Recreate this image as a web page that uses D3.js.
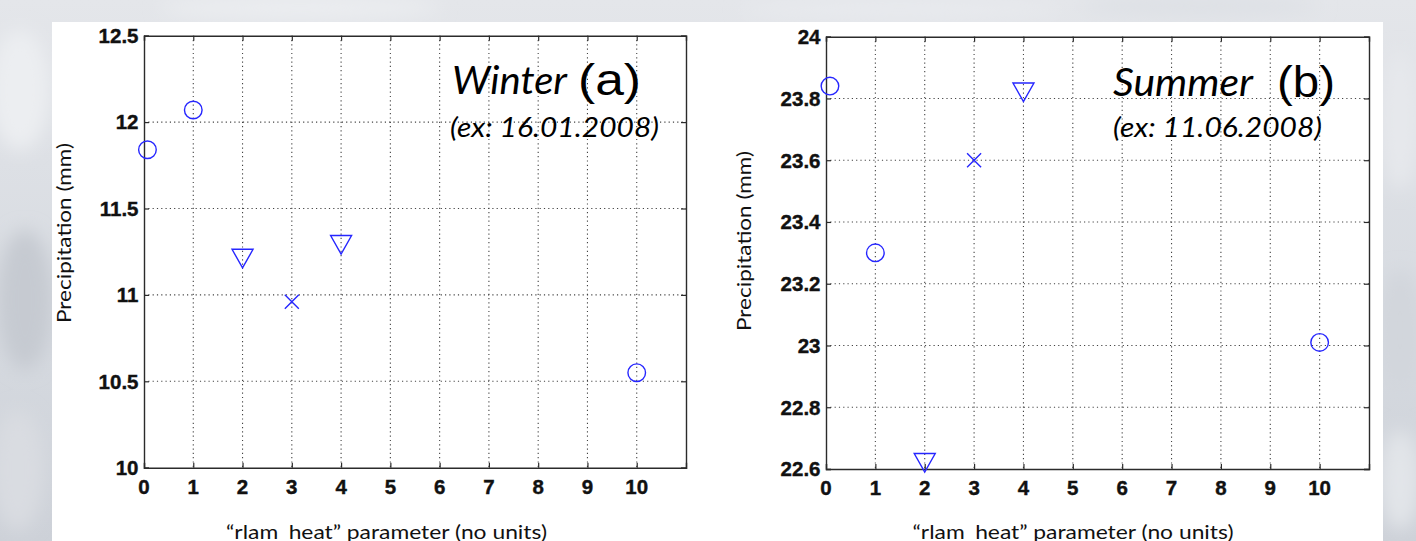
<!DOCTYPE html>
<html>
<head>
<meta charset="utf-8">
<script src="https://cdn.jsdelivr.net/npm/d3@7"></script>
<style>
  html, body { margin: 0; padding: 0; background: #dcdfe4; }
  svg { display: block; }
</style>
</head>
<body>
<svg id="chart" width="1416" height="541"></svg>
<script>
// rlam_heat parameter values shown on the x axis
const xTickValues = [0, 1, 2, 3, 4, 5, 6, 7, 8, 9, 10];
const xDomain = [0, 11];

// Winter case (16.01.2008)
const winterX = [0.07, 1, 2, 3, 4, 10];
const winterPrecip = [11.84, 12.07, 11.21, 10.96, 11.29, 10.55];
const winterMarkers = ["circle", "circle", "triangle", "cross", "triangle", "circle"];
const winterYTicks = [10, 10.5, 11, 11.5, 12, 12.5];

// Summer case (11.06.2008)
const summerX = [0.08, 1, 2, 3, 4, 10];
const summerPrecip = [23.84, 23.30, 22.62, 23.60, 23.82, 23.01];
const summerMarkers = ["circle", "circle", "triangle", "cross", "triangle", "circle"];
const summerYTicks = [22.6, 22.8, 23, 23.2, 23.4, 23.6, 23.8, 24];

const yLabel = "Precipitation (mm)";
const xLabel = "\u201Crlam_heat\u201D parameter (no units)";

const svg = d3.select("#chart");
const W = 1416, H = 541;

// ---- soft grey backdrop around the white sheet ----
const defs = svg.append("defs");
const bg = defs.append("linearGradient").attr("id", "bgGrad")
  .attr("x1", 0).attr("y1", 0).attr("x2", 0).attr("y2", 1);
bg.append("stop").attr("offset", "0%").attr("stop-color", "#e4e6ea");
bg.append("stop").attr("offset", "60%").attr("stop-color", "#d6dae0");
bg.append("stop").attr("offset", "100%").attr("stop-color", "#cdd1d8");
defs.append("filter").attr("id", "soft")
  .attr("x", "-50%").attr("y", "-50%").attr("width", "200%").attr("height", "200%")
  .append("feGaussianBlur").attr("stdDeviation", 9);

svg.append("rect").attr("width", W).attr("height", H).attr("fill", "url(#bgGrad)");
const blobs = [
  [20, 90, 30, 60, "#eceef1"], [25, 300, 28, 70, "#c6cad1"], [18, 470, 26, 60, "#d9dce1"],
  [300, 8, 140, 12, "#ebedf0"], [900, 10, 160, 10, "#e8eaee"], [1200, 6, 120, 10, "#dde0e5"],
  [1400, 120, 20, 70, "#e6e8ec"], [1400, 330, 22, 60, "#d2d6dc"], [1400, 480, 20, 50, "#e2e5e9"]
];
svg.append("g").attr("filter", "url(#soft)")
  .selectAll("ellipse").data(blobs).join("ellipse")
  .attr("cx", d => d[0]).attr("cy", d => d[1])
  .attr("rx", d => d[2]).attr("ry", d => d[3]).attr("fill", d => d[4]);

// white sheet holding both panels
svg.append("rect").attr("x", 52).attr("y", 22).attr("width", 1331).attr("height", H - 22)
  .attr("fill", "#ffffff");

const markerColor = "#2626ff";
const axisColor = "#2b2b2b";
const tickFont = "'Liberation Sans', Arial, sans-serif";
const textFont = "Lato, 'Open Sans', sans-serif";

function drawPanel(cfg) {
  const x = d3.scaleLinear().domain(xDomain).range([cfg.left, cfg.right]);
  const y = d3.scaleLinear().domain([cfg.yTicks[0], cfg.yTicks[cfg.yTicks.length - 1]])
    .range([cfg.bottom, cfg.top]);
  const g = svg.append("g");

  // dotted grid
  g.append("g").selectAll("line").data(xTickValues.filter(v => v > 0)).join("line")
    .attr("x1", d => x(d)).attr("x2", d => x(d))
    .attr("y1", cfg.top).attr("y2", cfg.bottom)
    .attr("stroke", "#444").attr("stroke-width", 1.1).attr("stroke-dasharray", "1.2,3.1");
  g.append("g").selectAll("line").data(cfg.yTicks.slice(1, -1)).join("line")
    .attr("x1", cfg.left).attr("x2", cfg.right)
    .attr("y1", d => y(d)).attr("y2", d => y(d))
    .attr("stroke", "#444").attr("stroke-width", 1.1).attr("stroke-dasharray", "1.2,3.1");

  // frame with inward ticks via d3 axes
  const tl = 5;
  const axB = d3.axisBottom(x).tickValues(xTickValues).tickSize(-tl).tickFormat("");
  const axT = d3.axisTop(x).tickValues(xTickValues).tickSize(-tl).tickFormat("");
  const axL = d3.axisLeft(y).tickValues(cfg.yTicks).tickSize(-tl).tickFormat("");
  const axR = d3.axisRight(y).tickValues(cfg.yTicks).tickSize(-tl).tickFormat("");
  const frame = [
    [axB, `translate(0,${cfg.bottom})`], [axT, `translate(0,${cfg.top})`],
    [axL, `translate(${cfg.left},0)`], [axR, `translate(${cfg.right},0)`]
  ];
  frame.forEach(([ax, tr]) => {
    const a = g.append("g").attr("transform", tr).call(ax);
    a.select(".domain").attr("stroke", axisColor).attr("stroke-width", 1.4);
    a.selectAll(".tick line").attr("stroke", axisColor).attr("stroke-width", 1.2);
  });

  // tick labels (slightly heavy, as in the printed figure)
  g.append("g").selectAll("text").data(xTickValues).join("text")
    .attr("x", d => x(d)).attr("y", cfg.bottom + 26)
    .attr("text-anchor", "middle")
    .attr("font-family", tickFont).attr("font-weight", "bold").attr("font-size", 20.5)
    .attr("fill", "#111").attr("stroke", "#111").attr("stroke-width", 0.4)
    .text(d => d);
  g.append("g").selectAll("text").data(cfg.yTicks).join("text")
    .attr("x", cfg.left - 5.5).attr("y", d => y(d) + 7.3)
    .attr("text-anchor", "end")
    .attr("font-family", tickFont).attr("font-weight", "bold").attr("font-size", 20.5)
    .attr("fill", "#111").attr("stroke", "#111").attr("stroke-width", 0.4)
    .text(d => String(d));

  // data markers
  const pts = cfg.xs.map((xv, i) => ({ x: xv, v: cfg.values[i], m: cfg.markers[i] }));
  const mg = g.append("g").attr("fill", "none").attr("stroke", markerColor).attr("stroke-width", 1.4);
  pts.forEach(p => {
    const cx = x(p.x), cy = y(p.v);
    if (p.m === "circle") {
      mg.append("circle").attr("cx", cx).attr("cy", cy).attr("r", 8.8);
    } else if (p.m === "triangle") {
      mg.append("path").attr("d",
        `M${cx - 10.5},${cy - 9.3}L${cx + 10.5},${cy - 9.3}L${cx},${cy + 9.3}Z`);
    } else {
      const s = 7;
      mg.append("path").attr("d",
        `M${cx - s},${cy - s}L${cx + s},${cy + s}M${cx - s},${cy + s}L${cx + s},${cy - s}`);
    }
  });

  // axis titles
  g.append("text")
    .attr("transform", `translate(${cfg.yLabelX},${cfg.yLabelY}) rotate(-90)`)
    .attr("text-anchor", "middle").attr("font-family", textFont).attr("font-size", 19)
    .attr("textLength", 180).attr("lengthAdjust", "spacingAndGlyphs")
    .attr("fill", "#111").text(yLabel);
  g.append("text")
    .attr("x", cfg.xLabelX).attr("y", 539)
    .attr("text-anchor", "middle").attr("font-family", textFont).attr("font-size", 20)
    .attr("textLength", 321).attr("lengthAdjust", "spacingAndGlyphs")
    .attr("fill", "#111").text(xLabel);

  // season annotation
  g.append("text").attr("x", cfg.seasonX).attr("y", cfg.seasonY)
    .attr("font-family", textFont).attr("font-style", "italic").attr("font-size", 38)
    .attr("textLength", cfg.seasonW).attr("lengthAdjust", "spacingAndGlyphs")
    .attr("fill", "#000").text(cfg.season);
  g.append("text").attr("x", cfg.tagX).attr("y", cfg.seasonY + 1)
    .attr("font-family", tickFont).attr("font-size", 44)
    .attr("textLength", cfg.tagW).attr("lengthAdjust", "spacingAndGlyphs")
    .attr("fill", "#000").text(cfg.tag);
  g.append("text").attr("x", cfg.dateX).attr("y", 137)
    .attr("font-family", textFont).attr("font-style", "italic").attr("font-size", 27)
    .attr("textLength", cfg.dateW).attr("lengthAdjust", "spacingAndGlyphs")
    .attr("fill", "#000").text(cfg.date);
}

drawPanel({
  left: 144, right: 686, top: 35.7, bottom: 467.7,
  xs: winterX, values: winterPrecip, markers: winterMarkers, yTicks: winterYTicks,
  yLabelX: 71, yLabelY: 233, xLabelX: 386.5,
  season: "Winter", seasonX: 452, seasonY: 94, seasonW: 115,
  tag: "(a)", tagX: 578, tagW: 63,
  date: "(ex: 16.01.2008)", dateX: 450, dateW: 209
});

drawPanel({
  left: 826, right: 1369, top: 36.7, bottom: 469,
  xs: summerX, values: summerPrecip, markers: summerMarkers, yTicks: summerYTicks,
  yLabelX: 751, yLabelY: 241, xLabelX: 1073,
  season: "Summer", seasonX: 1113, seasonY: 96, seasonW: 140,
  tag: "(b)", tagX: 1277, tagW: 58,
  date: "(ex: 11.06.2008)", dateX: 1113, dateW: 209
});
</script>
</body>
</html>
